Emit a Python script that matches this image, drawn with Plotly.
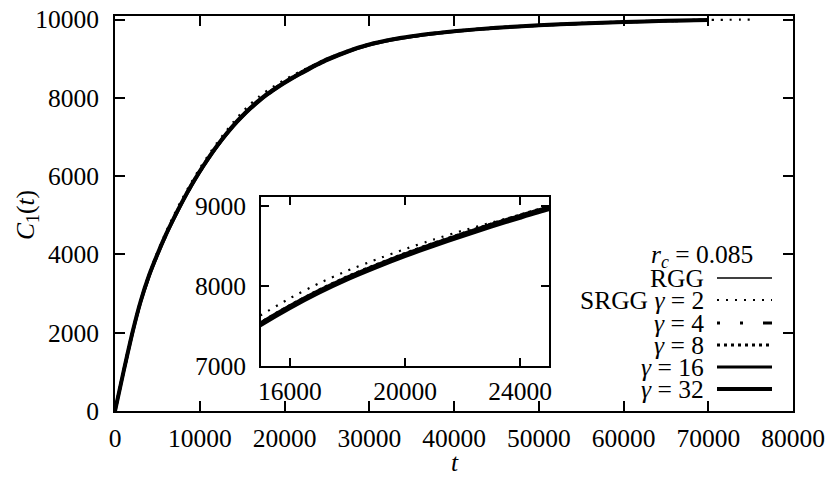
import plotly.graph_objects as go

# ---------------- data ----------------
t = [0, 1000, 2000, 3000, 4000, 5000, 6000, 7000, 8000, 9000, 10000, 11000, 12000,
     13000, 14000, 15000, 16000, 17000, 18000, 19000, 20000, 21000, 22000, 23000,
     24000, 25000, 27500, 30000, 32500, 35000, 37500, 40000, 45000, 50000, 55000,
     60000, 65000, 70000]
t_g2 = t + [75500]

c_rgg = [0, 1000, 1950, 2780, 3450, 4000, 4500, 4950, 5370, 5760, 6120, 6450, 6760,
         7040, 7300, 7530, 7740, 7930, 8100, 8250, 8390, 8520, 8640, 8760, 8870, 8975,
         9190, 9360, 9480, 9570, 9640, 9700, 9790, 9850, 9900, 9935, 9965, 9985]
c_g2 = [0, 1010, 1980, 2820, 3500, 4060, 4570, 5030, 5450, 5840, 6200, 6530, 6840,
        7120, 7390, 7635, 7845, 8030, 8190, 8330, 8460, 8580, 8690, 8790, 8885, 8985,
        9200, 9365, 9485, 9575, 9645, 9705, 9795, 9855, 9905, 9940, 9970, 9988, 10000]
c_g4 = [0, 995, 1945, 2775, 3440, 3990, 4490, 4940, 5360, 5750, 6110, 6440, 6750,
        7030, 7290, 7520, 7730, 7920, 8090, 8240, 8380, 8510, 8630, 8750, 8860, 8965,
        9185, 9355, 9475, 9565, 9635, 9695, 9785, 9848, 9898, 9933, 9963, 9984]
c_g8 = [0, 1005, 1960, 2790, 3465, 4015, 4515, 4965, 5385, 5775, 6135, 6465, 6775,
        7055, 7315, 7545, 7755, 7945, 8115, 8265, 8405, 8535, 8655, 8775, 8885, 8990,
        9200, 9370, 9488, 9577, 9646, 9705, 9793, 9853, 9902, 9937, 9966, 9986]
c_g16 = [0, 990, 1930, 2760, 3425, 3975, 4475, 4925, 5345, 5735, 6095, 6425, 6735,
         7015, 7275, 7505, 7715, 7905, 8075, 8225, 8365, 8495, 8615, 8735, 8845, 8950,
         9170, 9345, 9470, 9562, 9633, 9694, 9786, 9847, 9897, 9933, 9963, 9984]
c_g32 = [0, 1000, 1955, 2785, 3455, 4005, 4505, 4955, 5375, 5765, 6125, 6455, 6765,
         7045, 7305, 7535, 7745, 7935, 8105, 8255, 8395, 8525, 8645, 8765, 8875, 8980,
         9195, 9362, 9482, 9571, 9641, 9701, 9790, 9851, 9901, 9936, 9966, 9986]

legend_labels = ["RGG", "SRGG <i>γ</i> = 2", "<i>γ</i> = 4", "<i>γ</i> = 8",
                 "<i>γ</i> = 16", "<i>γ</i> = 32"]
legend_title = "<i>r</i><sub><i>c</i></sub> = 0.085"

main_xticks = [0, 10000, 20000, 30000, 40000, 50000, 60000, 70000, 80000]
main_yticks = [0, 2000, 4000, 6000, 8000, 10000]
inset_xticks = [16000, 20000, 24000]
inset_yticks = [7000, 8000, 9000]

# ---------------- styles ----------------
FONT = "Liberation Serif"
FS = 25.5
series = [
    (t, c_rgg, dict(width=1.5, dash="solid")),
    (t_g2, c_g2, dict(width=2.2, dash="2px,7px")),
    (t, c_g4, dict(width=3, dash="3px,20px,3px,20px,12px,20px")),
    (t, c_g8, dict(width=3, dash="3px,4px")),
    (t, c_g16, dict(width=3, dash="solid")),
    (t, c_g32, dict(width=4, dash="solid")),
]

fig = go.Figure()
for (xs, ys, ln), name in zip(series, legend_labels):
    fig.add_trace(go.Scatter(x=xs, y=ys, mode="lines", name=name,
                             line=dict(color="black", shape="spline", smoothing=0.6, **ln),
                             showlegend=False, xaxis="x", yaxis="y"))
for (xs, ys, ln), name in zip(series, legend_labels):
    fig.add_trace(go.Scatter(x=xs, y=ys, mode="lines", name=name,
                             line=dict(color="black", shape="spline", smoothing=0.6, **ln),
                             showlegend=False, xaxis="x2", yaxis="y2"))

W, H = 828, 478
def px(x):
    return x / W
def py(y):
    return 1 - y / H

axis_common = dict(showgrid=False, zeroline=False, showline=True, linecolor="black",
                   linewidth=2, mirror="ticks", ticks="inside", tickcolor="black",
                   tickwidth=2, tickformat="d", automargin=False,
                   tickfont=dict(family=FONT, size=FS, color="black"))

fig.update_layout(
    width=W, height=H, autosize=False, margin=dict(l=0, r=0, t=0, b=0, pad=0),
    paper_bgcolor="white", plot_bgcolor="white", showlegend=False,
    xaxis=dict(domain=[px(115), px(793)], range=[0, 80000], tickvals=main_xticks,
               ticklen=10, ticklabelstandoff=3, **axis_common),
    yaxis=dict(domain=[py(411), py(16)], range=[0, 10090], tickvals=main_yticks,
               ticklen=10, ticklabelstandoff=9, **axis_common),
    xaxis2=dict(domain=[px(261), px(549)], range=[15000, 25000], tickvals=inset_xticks,
                ticklen=8, anchor="y2", ticklabelstandoff=1, **axis_common),
    yaxis2=dict(domain=[py(366), py(197)], range=[7000, 9110], tickvals=inset_yticks,
                ticklen=8, anchor="x2", ticklabelstandoff=8, **axis_common),
)

# axis titles
fig.add_annotation(text="<i>t</i>", x=px(455), y=py(462), xref="paper", yref="paper",
                   xanchor="center", yanchor="middle", showarrow=False,
                   font=dict(family=FONT, size=FS, color="black"))
fig.add_annotation(text="<i>C</i><sub>1</sub>(<i>t</i>)", x=px(27), y=py(215),
                   xref="paper", yref="paper", textangle=-90, showarrow=False,
                   xanchor="center", yanchor="middle",
                   font=dict(family=FONT, size=FS, color="black"))

# legend (gnuplot-style key: text right-aligned, sample to the right)
row_y = [278, 300, 323, 345, 367, 389]
fig.add_annotation(text=legend_title, x=px(755), y=py(256), xref="paper", yref="paper",
                   xanchor="right", yanchor="middle", showarrow=False,
                   font=dict(family=FONT, size=FS, color="black"))
for (xs, ys, ln), name, ry in zip(series, legend_labels, row_y):
    fig.add_annotation(text=name, x=px(706), y=py(ry), xref="paper", yref="paper",
                       xanchor="right", yanchor="middle", showarrow=False,
                       font=dict(family=FONT, size=FS, color="black"))
    fig.add_shape(type="line", xref="paper", yref="paper", x0=px(717), x1=px(772),
                  y0=py(ry), y1=py(ry), line=dict(color="black", **ln))

fig.write_html("out.html", config={"displayModeBar": False})
